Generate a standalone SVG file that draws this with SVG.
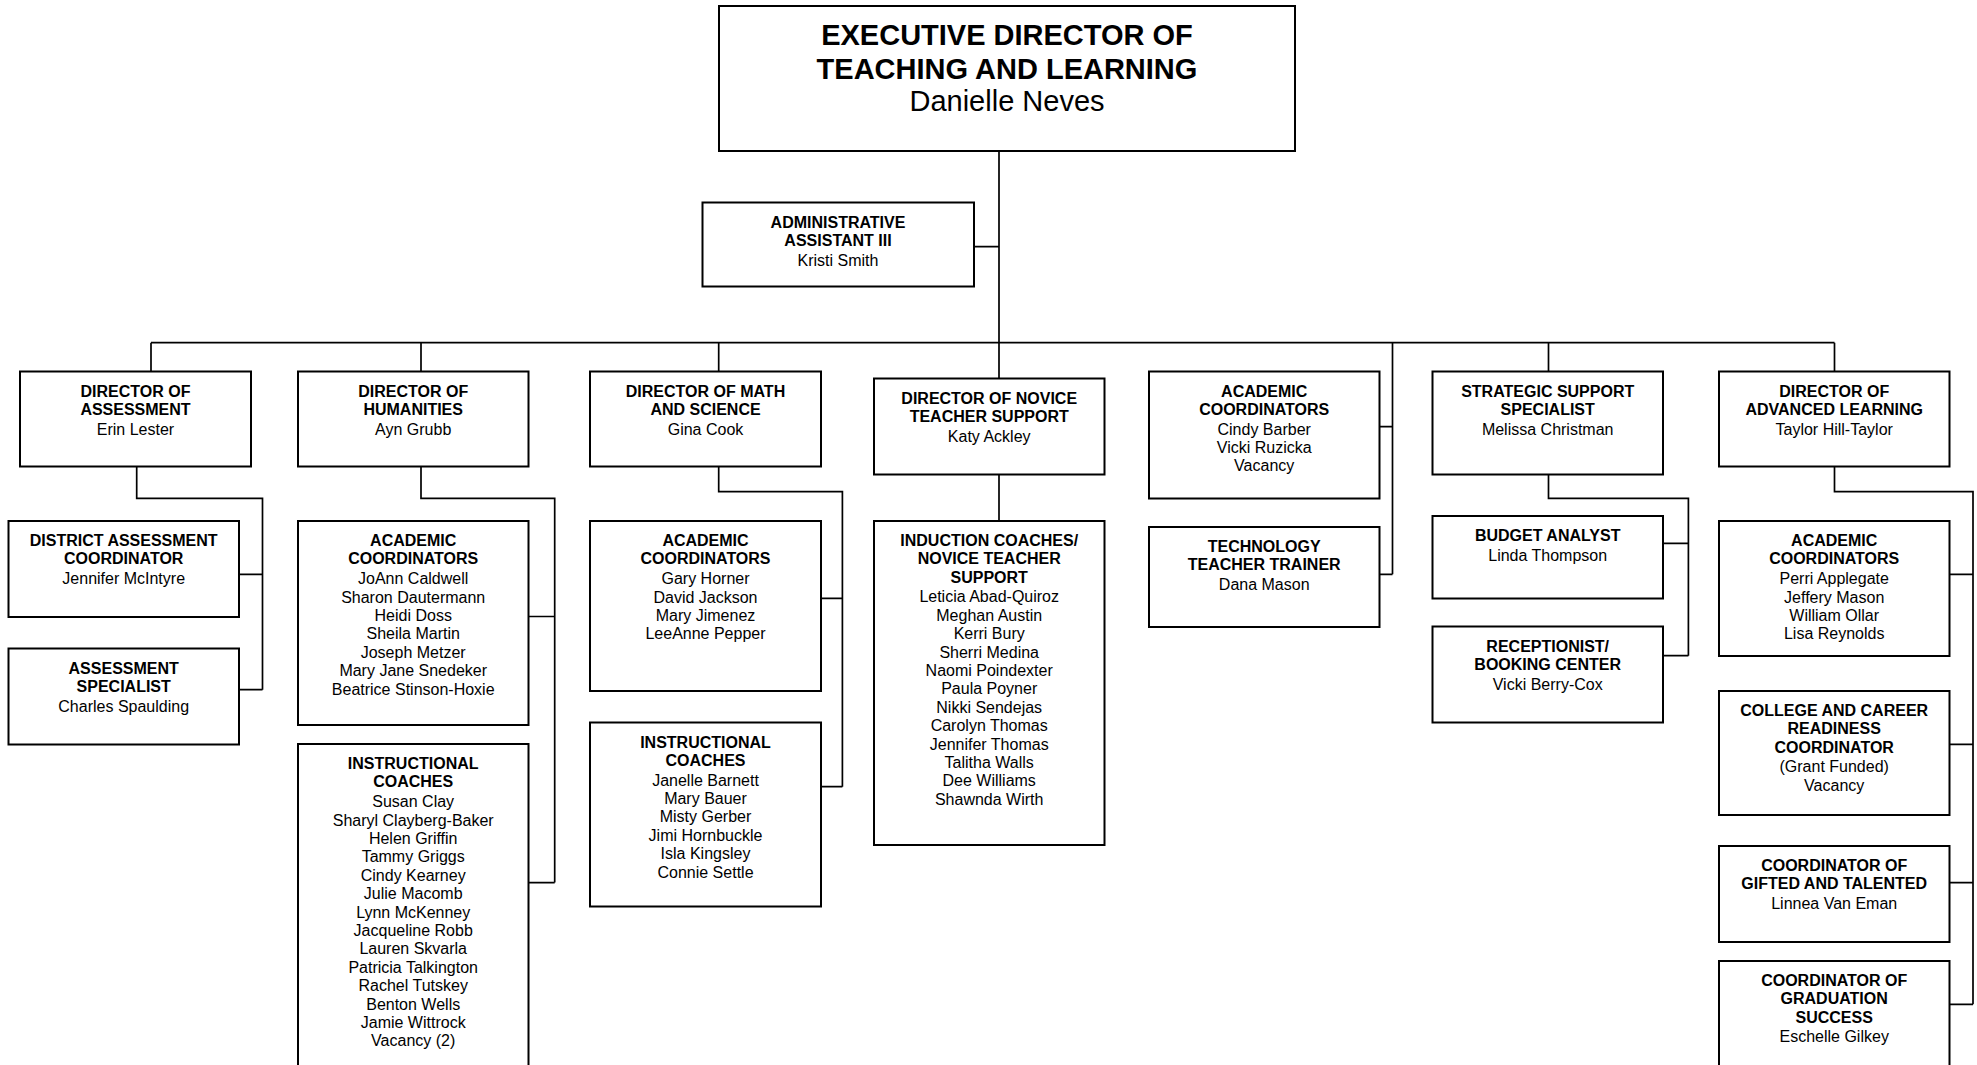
<svg xmlns="http://www.w3.org/2000/svg" width="1977" height="1065" viewBox="0 0 1977 1065">
<style>
.box{fill:#fff;stroke:#000;stroke-width:2}
.con{fill:none;stroke:#000;stroke-width:1.7}
text{font-family:"Liberation Sans",Arial,sans-serif;font-size:16px;fill:#000;text-anchor:middle}
.b{font-weight:bold}
.big{font-size:29px}
</style>
<rect width="1977" height="1065" fill="#fff"/>
<g id="connectors">
<path class="con" d="M999,151 V378.5 M974,246.7 H999 M151,342.7 H1834.5 M151,342.7 V371.5 M421,342.7 V371.5 M718.7,342.7 V371.5 M1548.5,342.7 V371.5 M1834.5,342.7 V371.5"/>
<path class="con" d="M1392.5,342.7 V574.3 M1379.5,426.7 H1392.5 M1379.5,574.3 H1392.5"/>
<path class="con" d="M136.7,466.5 V498.3 H262.5 V689.7 M239,574.3 H262.5 M239,689.7 H262.5"/>
<path class="con" d="M421,466.5 V498.3 H554.7 V882.6 M528.5,616.5 H554.7 M528.5,882.6 H554.7"/>
<path class="con" d="M718.7,466.5 V491.7 H842.4 V786.7 M821,598.3 H842.4 M821,786.7 H842.4"/>
<path class="con" d="M999,474.5 V521"/>
<path class="con" d="M1548.5,474.5 V498.3 H1688.4 V655.7 M1663,543.3 H1688.4 M1663,655.7 H1688.4"/>
<path class="con" d="M1834.5,466.5 V491.7 H1973 V1004.3 M1949.5,574.3 H1973 M1949.5,744.3 H1973 M1949.5,882.7 H1973 M1949.5,1004.3 H1973"/>
</g>
<g id="exec">
<rect class="box" x="719" y="6" width="576" height="145"/>
<text class="b big" x="1007" y="44.5">EXECUTIVE DIRECTOR OF</text>
<text class="b big" x="1007" y="78.5">TEACHING AND LEARNING</text>
<text class="big" x="1007" y="111">Danielle Neves</text>
</g>
<g id="admin">
<rect class="box" x="702.5" y="202.5" width="271.5" height="84"/>
<text class="b" x="838" y="227.5">ADMINISTRATIVE</text>
<text class="b" x="838" y="245.8">ASSISTANT III</text>
<text x="838" y="265.6">Kristi Smith</text>
</g>
<g id="dir-assessment">
<rect class="box" x="20" y="371.5" width="231" height="95"/>
<text class="b" x="135.5" y="396.5">DIRECTOR OF</text>
<text class="b" x="135.5" y="414.8">ASSESSMENT</text>
<text x="135.5" y="434.6">Erin Lester</text>
</g>
<g id="dir-humanities">
<rect class="box" x="298" y="371.5" width="230.5" height="95"/>
<text class="b" x="413.2" y="396.5">DIRECTOR OF</text>
<text class="b" x="413.2" y="414.8">HUMANITIES</text>
<text x="413.2" y="434.6">Ayn Grubb</text>
</g>
<g id="dir-math">
<rect class="box" x="590" y="371.5" width="231" height="95"/>
<text class="b" x="705.5" y="396.5">DIRECTOR OF MATH</text>
<text class="b" x="705.5" y="414.8">AND SCIENCE</text>
<text x="705.5" y="434.6">Gina Cook</text>
</g>
<g id="dir-novice">
<rect class="box" x="874" y="378.5" width="230.5" height="96"/>
<text class="b" x="989.2" y="403.5">DIRECTOR OF NOVICE</text>
<text class="b" x="989.2" y="421.8">TEACHER SUPPORT</text>
<text x="989.2" y="441.6">Katy Ackley</text>
</g>
<g id="academic-coordinators-top">
<rect class="box" x="1149" y="371.5" width="230.5" height="127"/>
<text class="b" x="1264.2" y="396.5">ACADEMIC</text>
<text class="b" x="1264.2" y="414.8">COORDINATORS</text>
<text x="1264.2" y="434.6">Cindy Barber</text>
<text x="1264.2" y="453">Vicki Ruzicka</text>
<text x="1264.2" y="471.4">Vacancy</text>
</g>
<g id="strategic">
<rect class="box" x="1432.5" y="371.5" width="230.5" height="103"/>
<text class="b" x="1547.7" y="396.5">STRATEGIC SUPPORT</text>
<text class="b" x="1547.7" y="414.8">SPECIALIST</text>
<text x="1547.7" y="434.6">Melissa Christman</text>
</g>
<g id="dir-advanced">
<rect class="box" x="1719" y="371.5" width="230.5" height="95"/>
<text class="b" x="1834.2" y="396.5">DIRECTOR OF</text>
<text class="b" x="1834.2" y="414.8">ADVANCED LEARNING</text>
<text x="1834.2" y="434.6">Taylor Hill-Taylor</text>
</g>
<g id="district-assessment">
<rect class="box" x="8.5" y="521" width="230.5" height="96"/>
<text class="b" x="123.7" y="546">DISTRICT ASSESSMENT</text>
<text class="b" x="123.7" y="564.3">COORDINATOR</text>
<text x="123.7" y="584.1">Jennifer McIntyre</text>
</g>
<g id="assessment-specialist">
<rect class="box" x="8.5" y="648.5" width="230.5" height="96"/>
<text class="b" x="123.7" y="673.5">ASSESSMENT</text>
<text class="b" x="123.7" y="691.8">SPECIALIST</text>
<text x="123.7" y="711.6">Charles Spaulding</text>
</g>
<g id="hum-academic">
<rect class="box" x="298" y="521" width="230.5" height="204"/>
<text class="b" x="413.2" y="546">ACADEMIC</text>
<text class="b" x="413.2" y="564.3">COORDINATORS</text>
<text x="413.2" y="584.1">JoAnn Caldwell</text>
<text x="413.2" y="602.5">Sharon Dautermann</text>
<text x="413.2" y="620.9">Heidi Doss</text>
<text x="413.2" y="639.3">Sheila Martin</text>
<text x="413.2" y="657.7">Joseph Metzer</text>
<text x="413.2" y="676.1">Mary Jane Snedeker</text>
<text x="413.2" y="694.5">Beatrice Stinson-Hoxie</text>
</g>
<g id="hum-coaches">
<rect class="box" x="298" y="744" width="230.5" height="340"/>
<text class="b" x="413.2" y="769">INSTRUCTIONAL</text>
<text class="b" x="413.2" y="787.3">COACHES</text>
<text x="413.2" y="807.1">Susan Clay</text>
<text x="413.2" y="825.5">Sharyl Clayberg-Baker</text>
<text x="413.2" y="843.9">Helen Griffin</text>
<text x="413.2" y="862.3">Tammy Griggs</text>
<text x="413.2" y="880.7">Cindy Kearney</text>
<text x="413.2" y="899.1">Julie Macomb</text>
<text x="413.2" y="917.5">Lynn McKenney</text>
<text x="413.2" y="935.9">Jacqueline Robb</text>
<text x="413.2" y="954.3">Lauren Skvarla</text>
<text x="413.2" y="972.7">Patricia Talkington</text>
<text x="413.2" y="991.1">Rachel Tutskey</text>
<text x="413.2" y="1009.5">Benton Wells</text>
<text x="413.2" y="1027.9">Jamie Wittrock</text>
<text x="413.2" y="1046.3">Vacancy (2)</text>
</g>
<g id="math-academic">
<rect class="box" x="590" y="521" width="231" height="170"/>
<text class="b" x="705.5" y="546">ACADEMIC</text>
<text class="b" x="705.5" y="564.3">COORDINATORS</text>
<text x="705.5" y="584.1">Gary Horner</text>
<text x="705.5" y="602.5">David Jackson</text>
<text x="705.5" y="620.9">Mary Jimenez</text>
<text x="705.5" y="639.3">LeeAnne Pepper</text>
</g>
<g id="math-coaches">
<rect class="box" x="590" y="722.5" width="231" height="184"/>
<text class="b" x="705.5" y="747.5">INSTRUCTIONAL</text>
<text class="b" x="705.5" y="765.8">COACHES</text>
<text x="705.5" y="785.6">Janelle Barnett</text>
<text x="705.5" y="804">Mary Bauer</text>
<text x="705.5" y="822.4">Misty Gerber</text>
<text x="705.5" y="840.8">Jimi Hornbuckle</text>
<text x="705.5" y="859.2">Isla Kingsley</text>
<text x="705.5" y="877.6">Connie Settle</text>
</g>
<g id="induction">
<rect class="box" x="874" y="521" width="230.5" height="324"/>
<text class="b" x="989.2" y="546">INDUCTION COACHES/</text>
<text class="b" x="989.2" y="564.3">NOVICE TEACHER</text>
<text class="b" x="989.2" y="582.6">SUPPORT</text>
<text x="989.2" y="602.4">Leticia Abad-Quiroz</text>
<text x="989.2" y="620.8">Meghan Austin</text>
<text x="989.2" y="639.2">Kerri Bury</text>
<text x="989.2" y="657.6">Sherri Medina</text>
<text x="989.2" y="676">Naomi Poindexter</text>
<text x="989.2" y="694.4">Paula Poyner</text>
<text x="989.2" y="712.8">Nikki Sendejas</text>
<text x="989.2" y="731.2">Carolyn Thomas</text>
<text x="989.2" y="749.6">Jennifer Thomas</text>
<text x="989.2" y="768">Talitha Walls</text>
<text x="989.2" y="786.4">Dee Williams</text>
<text x="989.2" y="804.8">Shawnda Wirth</text>
</g>
<g id="tech-trainer">
<rect class="box" x="1149" y="527" width="230.5" height="100"/>
<text class="b" x="1264.2" y="552">TECHNOLOGY</text>
<text class="b" x="1264.2" y="570.3">TEACHER TRAINER</text>
<text x="1264.2" y="590.1">Dana Mason</text>
</g>
<g id="budget">
<rect class="box" x="1432.5" y="516" width="230.5" height="82.5"/>
<text class="b" x="1547.7" y="541">BUDGET ANALYST</text>
<text x="1547.7" y="560.8">Linda Thompson</text>
</g>
<g id="receptionist">
<rect class="box" x="1432.5" y="626.5" width="230.5" height="96"/>
<text class="b" x="1547.7" y="651.5">RECEPTIONIST/</text>
<text class="b" x="1547.7" y="669.8">BOOKING CENTER</text>
<text x="1547.7" y="689.6">Vicki Berry-Cox</text>
</g>
<g id="adv-academic">
<rect class="box" x="1719" y="521" width="230.5" height="135"/>
<text class="b" x="1834.2" y="546">ACADEMIC</text>
<text class="b" x="1834.2" y="564.3">COORDINATORS</text>
<text x="1834.2" y="584.1">Perri Applegate</text>
<text x="1834.2" y="602.5">Jeffery Mason</text>
<text x="1834.2" y="620.9">William Ollar</text>
<text x="1834.2" y="639.3">Lisa Reynolds</text>
</g>
<g id="college-career">
<rect class="box" x="1719" y="691" width="230.5" height="124"/>
<text class="b" x="1834.2" y="716">COLLEGE AND CAREER</text>
<text class="b" x="1834.2" y="734.3">READINESS</text>
<text class="b" x="1834.2" y="752.6">COORDINATOR</text>
<text x="1834.2" y="772.4">(Grant Funded)</text>
<text x="1834.2" y="790.8">Vacancy</text>
</g>
<g id="gifted">
<rect class="box" x="1719" y="846" width="230.5" height="96"/>
<text class="b" x="1834.2" y="871">COORDINATOR OF</text>
<text class="b" x="1834.2" y="889.3">GIFTED AND TALENTED</text>
<text x="1834.2" y="909.1">Linnea Van Eman</text>
</g>
<g id="graduation">
<rect class="box" x="1719" y="961" width="230.5" height="130"/>
<text class="b" x="1834.2" y="986">COORDINATOR OF</text>
<text class="b" x="1834.2" y="1004.3">GRADUATION</text>
<text class="b" x="1834.2" y="1022.6">SUCCESS</text>
<text x="1834.2" y="1042.4">Eschelle Gilkey</text>
</g>
</svg>
